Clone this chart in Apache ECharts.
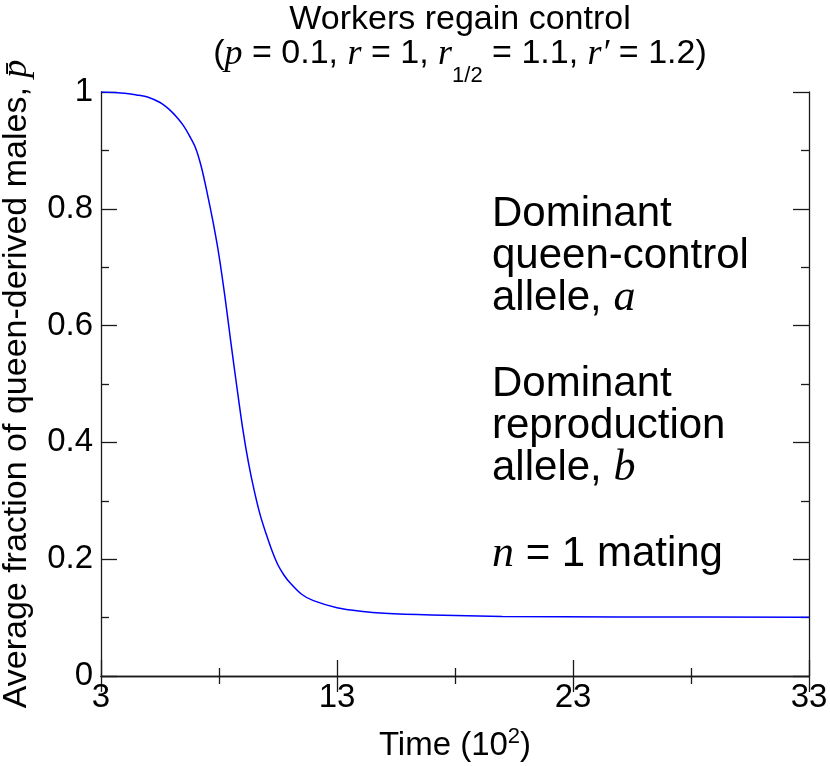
<!DOCTYPE html>
<html>
<head>
<meta charset="utf-8">
<script src="https://cdn.jsdelivr.net/npm/echarts@6/dist/echarts.min.js"></script>
<style>html,body{margin:0;padding:0;background:#fff;}#c{width:830px;height:766px;}</style>
</head>
<body>
<div id="c"></div>
<script>
// Data
const times = [3, 4, 4.5, 5, 5.5, 5.75, 6, 6.25, 6.5, 6.75, 7, 7.25, 7.5, 7.75, 8, 8.25, 8.5, 8.75, 9, 9.25, 9.5, 9.75, 10, 10.25, 10.5, 10.75, 11, 11.5, 12, 13, 14, 15, 17, 20, 25, 33];
const fractions = [1.0, 0.998, 0.995, 0.991, 0.982, 0.975, 0.966, 0.955, 0.942, 0.925, 0.905, 0.872, 0.827, 0.777, 0.72, 0.65, 0.572, 0.497, 0.425, 0.365, 0.316, 0.275, 0.243, 0.214, 0.19, 0.173, 0.16, 0.14, 0.129, 0.117, 0.111, 0.1075, 0.1045, 0.102, 0.1012, 0.1005];
const xTicks = [3, 13, 23, 33];
const yTicks = [0, 0.2, 0.4, 0.6, 0.8, 1];

const SANS = '"Liberation Sans", Arial, Helvetica, sans-serif';
const SERIF = '"Liberation Serif", "Times New Roman", serif';
const AX = '#1a1a1a';

const chart = echarts.init(document.getElementById('c'), null, {renderer: 'canvas'});

const baseAxis = {
  axisLine: {show: true, lineStyle: {color: AX, width: 1.3}},
  axisTick: {show: true, inside: true, length: 16, lineStyle: {color: AX, width: 1.3}},
  minorTick: {show: true, splitNumber: 2, length: 8, lineStyle: {color: AX, width: 1.3}},
  splitLine: {show: false},
  minorSplitLine: {show: false}
};

const option = {
  backgroundColor: '#fff',
  animation: false,
  title: {
    left: 455, top: -2, textAlign: 'center',
    text: '{t|Workers regain control}\n{n|(}{i|p}{n| = 0.1, }{i|r}{n| = 1, }{i|r}{s|1/2}{n| = 1.1, }{i|r′}{n| = 1.2)}',
    textStyle: {
      fontWeight: 'normal',
      rich: {
        t: {fontFamily: SANS, fontWeight: 'normal', fontSize: 34, color: '#000', lineHeight: 34, verticalAlign: 'middle'},
        n: {fontFamily: SANS, fontWeight: 'normal', fontSize: 34, color: '#000', lineHeight: 34, verticalAlign: 'top'},
        i: {fontFamily: SERIF, fontWeight: 'normal', fontStyle: 'italic', fontSize: 36, color: '#000', lineHeight: 34, verticalAlign: 'top'},
        s: {fontFamily: SANS, fontWeight: 'normal', fontSize: 22, color: '#000', lineHeight: 50, verticalAlign: 'bottom'}
      }
    }
  },
  grid: {left: 101, right: 21, top: 92, bottom: 90, containLabel: false, outerBoundsMode: 'none'},
  xAxis: [
    Object.assign({}, baseAxis, {
      type: 'value', position: 'bottom', min: xTicks[0], max: xTicks[xTicks.length - 1], interval: xTicks[1] - xTicks[0],
      axisLabel: {show: true, margin: 5, fontFamily: SANS, fontSize: 33, color: '#000'},
      name: '{n|Time (10}{p|2}{n|)}', nameLocation: 'middle', nameGap: 50,
      nameTextStyle: {
        rich: {
          n: {fontFamily: SANS, fontSize: 33, color: '#000', lineHeight: 36, verticalAlign: 'bottom'},
          p: {fontFamily: SANS, fontSize: 22, color: '#000', lineHeight: 36, verticalAlign: 'top'}
        }
      }
    }),
    Object.assign({}, baseAxis, {
      type: 'value', position: 'top', min: xTicks[0], max: xTicks[xTicks.length - 1], interval: xTicks[1] - xTicks[0],
      axisLabel: {show: false}
    })
  ],
  yAxis: [
    Object.assign({}, baseAxis, {
      type: 'value', position: 'left', min: yTicks[0], max: yTicks[yTicks.length - 1], interval: yTicks[1] - yTicks[0],
      axisLabel: {show: true, margin: 8, fontFamily: SANS, fontSize: 33, color: '#000'},
      name: '{n|Average fraction of queen-derived males, }{i|p\u0304}',
      nameLocation: 'middle', nameGap: 66, nameRotate: 90,
      nameTextStyle: {
        rich: {
          n: {fontFamily: SANS, fontSize: 34, color: '#000'},
          i: {fontFamily: SERIF, fontStyle: 'italic', fontSize: 36, color: '#000'}
        }
      }
    }),
    Object.assign({}, baseAxis, {
      type: 'value', position: 'right', min: yTicks[0], max: yTicks[yTicks.length - 1], interval: yTicks[1] - yTicks[0],
      axisLabel: {show: false}
    })
  ],
  series: [{
    type: 'line',
    data: times.map((t, i) => [t, fractions[i]]),
    showSymbol: false,
    smooth: 0.3,
    lineStyle: {color: '#0000ff', width: 1.5},
    xAxisIndex: 0, yAxisIndex: 0
  }],
  graphic: [{
    type: 'text', left: 492, top: 193,
    style: {
      text: '{n|Dominant}\n{n|queen-control}\n{n|allele, }{i|a}\n{g|}\n{n|Dominant}\n{n|reproduction}\n{n|allele, }{i|b}\n{g|}\n{i|n}{n| = 1 mating}',
      rich: {
        n: {fontFamily: SANS, fontSize: 42, lineHeight: 42, fill: '#000'},
        i: {fontFamily: SERIF, fontStyle: 'italic', fontSize: 44, lineHeight: 42, fill: '#000'},
        g: {fontSize: 10, lineHeight: 44}
      }
    }
  }]
};
chart.setOption(option);
</script>
</body>
</html>
